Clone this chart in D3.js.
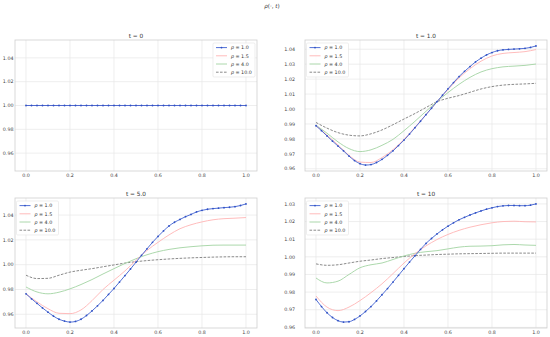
<!DOCTYPE html>
<html>
<head>
<meta charset="utf-8">
<script src="https://cdn.jsdelivr.net/npm/d3@7"></script>
<style>
  body { margin: 0; background: #fff; }
  svg { display: block; font-family: "DejaVu Sans", sans-serif; }
</style>
</head>
<body>
<div id="chart"></div>
<script>
const pLabels = ["1.0", "1.5", "4.0", "10.0"]
const panelTitles = ["t = 0", "t = 1.0", "t = 5.0", "t = 10"]
const xTicks = [0, 0.2, 0.4, 0.6, 0.8, 1.0]

// sample grids
const xFine = [0, 0.025, 0.05, 0.075, 0.1, 0.125, 0.15, 0.175, 0.2, 0.225, 0.25, 0.275, 0.3, 0.325, 0.35, 0.375,
    0.4, 0.425, 0.45, 0.475, 0.5, 0.525, 0.55, 0.575, 0.6, 0.625, 0.65, 0.675, 0.7, 0.725, 0.75, 0.775,
    0.8, 0.825, 0.85, 0.875, 0.9, 0.925, 0.95, 0.975, 1.0]
const xCoarse = [0, 0.05, 0.1, 0.15, 0.2, 0.25, 0.3, 0.35, 0.4, 0.45, 0.5, 0.55, 0.6, 0.65, 0.7, 0.75, 0.8, 0.85, 0.9, 0.95, 1.0]

// t = 0
const t0_p1 = [1, 1, 1, 1, 1, 1, 1, 1, 1, 1, 1, 1, 1, 1, 1, 1, 1, 1, 1, 1, 1, 1, 1, 1, 1, 1, 1, 1, 1, 1, 1, 1, 1, 1, 1, 1, 1, 1, 1, 1, 1]
const t0_p15 = [1, 1, 1, 1, 1, 1, 1, 1, 1, 1, 1, 1, 1, 1, 1, 1, 1, 1, 1, 1, 1]
const t0_p4 = [1, 1, 1, 1, 1, 1, 1, 1, 1, 1, 1, 1, 1, 1, 1, 1, 1, 1, 1, 1, 1]
const t0_p10 = [1, 1, 1, 1, 1, 1, 1, 1, 1, 1, 1, 1, 1, 1, 1, 1, 1, 1, 1, 1, 1]

// t = 1.0
const t1_p1 = [0.9888, 0.9855, 0.9820, 0.9785, 0.9752, 0.9720, 0.9685, 0.9655, 0.9634, 0.9625, 0.9628, 0.9642,
    0.9663, 0.9690, 0.9720, 0.9755, 0.9792, 0.9832, 0.9875, 0.9918, 0.9962, 1.0005, 1.0049, 1.0092, 1.0135,
    1.0177, 1.0217, 1.0252, 1.0284, 1.0315, 1.0340, 1.0362, 1.0378, 1.0390, 1.0396, 1.0399, 1.0401, 1.0403,
    1.0406, 1.0412, 1.0422]
const t1_p15 = [0.9890, 0.9825, 0.9760, 0.9690, 0.9645, 0.9642, 0.9675, 0.9728, 0.9797, 0.9878, 0.9963, 1.0049,
    1.0130, 1.0208, 1.0270, 1.0320, 1.0355, 1.0372, 1.0378, 1.0384, 1.0398]
const t1_p4 = [0.9892, 0.9838, 0.9780, 0.9735, 0.9715, 0.9727, 0.9757, 0.9797, 0.9855, 0.9918, 0.9985, 1.0050,
    1.0110, 1.0165, 1.0212, 1.0248, 1.0270, 1.0282, 1.0287, 1.0292, 1.0301]
const t1_p10 = [0.9910, 0.9872, 0.9842, 0.9825, 0.9820, 0.9834, 0.9860, 0.9895, 0.9933, 0.9970, 1.0010, 1.0049,
    1.0072, 1.0090, 1.0112, 1.0134, 1.0150, 1.0160, 1.0165, 1.0168, 1.0172]

// t = 5.0
const t5_p1 = [0.9765, 0.9725, 0.9688, 0.9651, 0.9617, 0.9585, 0.9560, 0.9545, 0.9537, 0.9542, 0.9560, 0.9590,
    0.9627, 0.9668, 0.9712, 0.9760, 0.9808, 0.9860, 0.9912, 0.9965, 1.0020, 1.0075, 1.0128, 1.0180, 1.0228,
    1.0272, 1.0312, 1.0342, 1.0365, 1.0387, 1.0405, 1.0425, 1.0438, 1.0447, 1.0452, 1.0456, 1.0460, 1.0463,
    1.0468, 1.0477, 1.0490]
const t5_p15 = [0.9765, 0.9700, 0.9645, 0.9608, 0.9605, 0.9635, 0.9710, 0.9800, 0.9875, 0.9950, 1.0035, 1.0115,
    1.0180, 1.0240, 1.0290, 1.0322, 1.0345, 1.0362, 1.0371, 1.0375, 1.0380]
const t5_p4 = [0.9820, 0.9780, 0.9765, 0.9778, 0.9805, 0.9840, 0.9880, 0.9925, 0.9968, 1.0010, 1.0048, 1.0080,
    1.0105, 1.0123, 1.0136, 1.0145, 1.0152, 1.0157, 1.0158, 1.0158, 1.0158]
const t5_p10 = [0.9915, 0.9888, 0.9890, 0.9915, 0.9940, 0.9955, 0.9968, 0.9983, 0.9998, 1.0013, 1.0024, 1.0033,
    1.0040, 1.0046, 1.0051, 1.0055, 1.0058, 1.0061, 1.0063, 1.0064, 1.0064]

// t = 10
const t10_p1 = [0.9758, 0.9718, 0.9683, 0.9656, 0.9638, 0.9630, 0.9632, 0.9645, 0.9665, 0.9690, 0.9718, 0.9750,
    0.9785, 0.9820, 0.9857, 0.9895, 0.9933, 0.9970, 1.0006, 1.0042, 1.0076, 1.0104, 1.0130, 1.0153, 1.0174,
    1.0193, 1.0210, 1.0224, 1.0237, 1.0249, 1.0260, 1.0270, 1.0278, 1.0285, 1.0289, 1.0291, 1.0291, 1.0290,
    1.0290, 1.0293, 1.0300]
const t10_p15 = [0.9778, 0.9715, 0.9695, 0.9715, 0.9752, 0.9797, 0.9847, 0.9905, 0.9965, 1.0018, 1.0062, 1.0098,
    1.0127, 1.0150, 1.0168, 1.0182, 1.0193, 1.0200, 1.0202, 1.0199, 1.0198]
const t10_p4 = [0.9880, 0.9852, 0.9862, 0.9900, 0.9938, 0.9955, 0.9965, 0.9985, 1.0005, 1.0020, 1.0029, 1.0035,
    1.0045, 1.0055, 1.0060, 1.0061, 1.0063, 1.0068, 1.0070, 1.0067, 1.0065]
const t10_p10 = [0.9960, 0.9952, 0.9955, 0.9965, 0.9975, 0.9982, 0.9990, 0.9996, 1.0002, 1.0007, 1.0010, 1.0013,
    1.0015, 1.0017, 1.0018, 1.0019, 1.0020, 1.0021, 1.0021, 1.0021, 1.0021]

const styles = [
    { color: "#3d5fd0", width: 0.9, dash: null, marker: true },
    { color: "#ffb4b4", width: 0.9, dash: null, marker: false },
    { color: "#a3d4a3", width: 0.9, dash: null, marker: false },
    { color: "#7d7d7d", width: 0.9, dash: "2.6,1.4", marker: false }
]

const panels = [
    { title: panelTitles[0], series: [t0_p1, t0_p15, t0_p4, t0_p10], box: [15, 40, 257, 171], legendRight: true },
    { title: panelTitles[1], series: [t1_p1, t1_p15, t1_p4, t1_p10], box: [305, 40, 547, 171], legendRight: false },
    { title: panelTitles[2], series: [t5_p1, t5_p15, t5_p4, t5_p10], box: [15, 198, 257, 328], legendRight: false },
    { title: panelTitles[3], series: [t10_p1, t10_p15, t10_p4, t10_p10], box: [305, 198, 547, 328], legendRight: false }
]
const yTickCounts = [5, 9, 5, 8]

const W = 550, H = 337

const svg = d3.select("#chart").append("svg")
    .attr("width", W)
    .attr("height", H)

svg.append("text")
    .attr("x", 272)
    .attr("y", 8)
    .attr("text-anchor", "middle")
    .style("font-size", "5.6px")
    .style("fill", "#333")
    .html(`<tspan font-style="italic">ρ</tspan>(·, <tspan font-style="italic">t</tspan>)`)

panels.forEach((panel, pi) => {
    const [x0, y0, x1, y1] = panel.box
    const pts = panel.series.map((vals, si) => vals.map((v, i) => ({ x: (si === 0 ? xFine : xCoarse)[i], y: v })))

    // matplotlib-like autoscale with 5% margins
    let [lo, hi] = d3.extent(pts.flat(), d => d.y)
    if (hi - lo < 1e-9) { lo -= 0.05 * Math.abs(lo); hi += 0.05 * Math.abs(hi) }
    const m = (hi - lo) * 0.05

    const x = d3.scaleLinear().domain([-0.05, 1.05]).range([x0, x1])
    const y = d3.scaleLinear().domain([lo - m, hi + m]).range([y1, y0])

    const g = svg.append("g")

    // grid
    g.append("g").selectAll("line").data(xTicks).join("line")
        .attr("x1", d => x(d)).attr("x2", d => x(d))
        .attr("y1", y0).attr("y2", y1)
        .attr("stroke", "#e6e6e6").attr("stroke-width", 0.7)
    const yTicks = y.ticks(yTickCounts[pi])
    g.append("g").selectAll("line").data(yTicks).join("line")
        .attr("x1", x0).attr("x2", x1)
        .attr("y1", d => y(d)).attr("y2", d => y(d))
        .attr("stroke", "#e6e6e6").attr("stroke-width", 0.7)

    // tick labels
    const labelX = pi % 2 === 0 ? 13.5 : 295
    g.append("g").selectAll("text").data(yTicks).join("text")
        .attr("x", labelX)
        .attr("y", d => y(d) + 1.7)
        .attr("text-anchor", "end")
        .style("font-size", "4.8px")
        .style("fill", "#444")
        .text(d3.format(".2f"))
    g.append("g").selectAll("text").data(xTicks).join("text")
        .attr("x", d => x(d))
        .attr("y", y1 + 6.3)
        .attr("text-anchor", "middle")
        .style("font-size", "4.8px")
        .style("fill", "#444")
        .text(d3.format(".1f"))

    // lines, drawn back to front
    const line = d3.line()
        .x(d => x(d.x))
        .y(d => y(d.y))
        .curve(d3.curveMonotoneX)
    const order = [3, 2, 1, 0]
    order.forEach(si => {
        const st = styles[si]
        g.append("path")
            .datum(pts[si])
            .attr("d", line)
            .attr("fill", "none")
            .attr("stroke", st.color)
            .attr("stroke-width", st.width)
            .attr("stroke-dasharray", st.dash)
        if (st.marker) {
            g.append("g").selectAll("circle").data(pts[si]).join("circle")
                .attr("cx", d => x(d.x))
                .attr("cy", d => y(d.y))
                .attr("r", 0.9)
                .attr("fill", "#2f50c4")
        }
    })

    // frame
    g.append("rect")
        .attr("x", x0).attr("y", y0)
        .attr("width", x1 - x0).attr("height", y1 - y0)
        .attr("fill", "none")
        .attr("stroke", "#cfcfcf")
        .attr("stroke-width", 0.8)

    // title
    g.append("text")
        .attr("x", (x0 + x1) / 2)
        .attr("y", y0 - 2.2)
        .attr("text-anchor", "middle")
        .style("font-size", "5.8px")
        .style("fill", "#333")
        .text(panel.title)

    // legend
    const lw = 42, lh = 34
    const lx = panel.legendRight ? x1 - 2 - lw : x0 + 1.5
    const ly = y0 + 3
    const leg = g.append("g").attr("transform", `translate(${lx},${ly})`)
    leg.append("rect")
        .attr("width", lw).attr("height", lh)
        .attr("rx", 1.2)
        .attr("fill", "#fff").attr("fill-opacity", 0.85)
        .attr("stroke", "#e2e2e2").attr("stroke-width", 0.6)
    pLabels.forEach((lab, i) => {
        const st = styles[i]
        const cy = 4.6 + i * 8.2
        leg.append("line")
            .attr("x1", 3).attr("x2", 14)
            .attr("y1", cy).attr("y2", cy)
            .attr("stroke", st.color)
            .attr("stroke-width", st.width)
            .attr("stroke-dasharray", st.dash)
        if (st.marker) {
            leg.append("circle").attr("cx", 8.5).attr("cy", cy).attr("r", 0.9).attr("fill", "#2f50c4")
        }
        leg.append("text")
            .attr("x", 18)
            .attr("y", cy + 1.7)
            .style("font-size", "4.8px")
            .style("fill", "#333")
            .html(`<tspan font-style="italic">p</tspan> = ${lab}`)
    })
})
</script>
</body>
</html>
